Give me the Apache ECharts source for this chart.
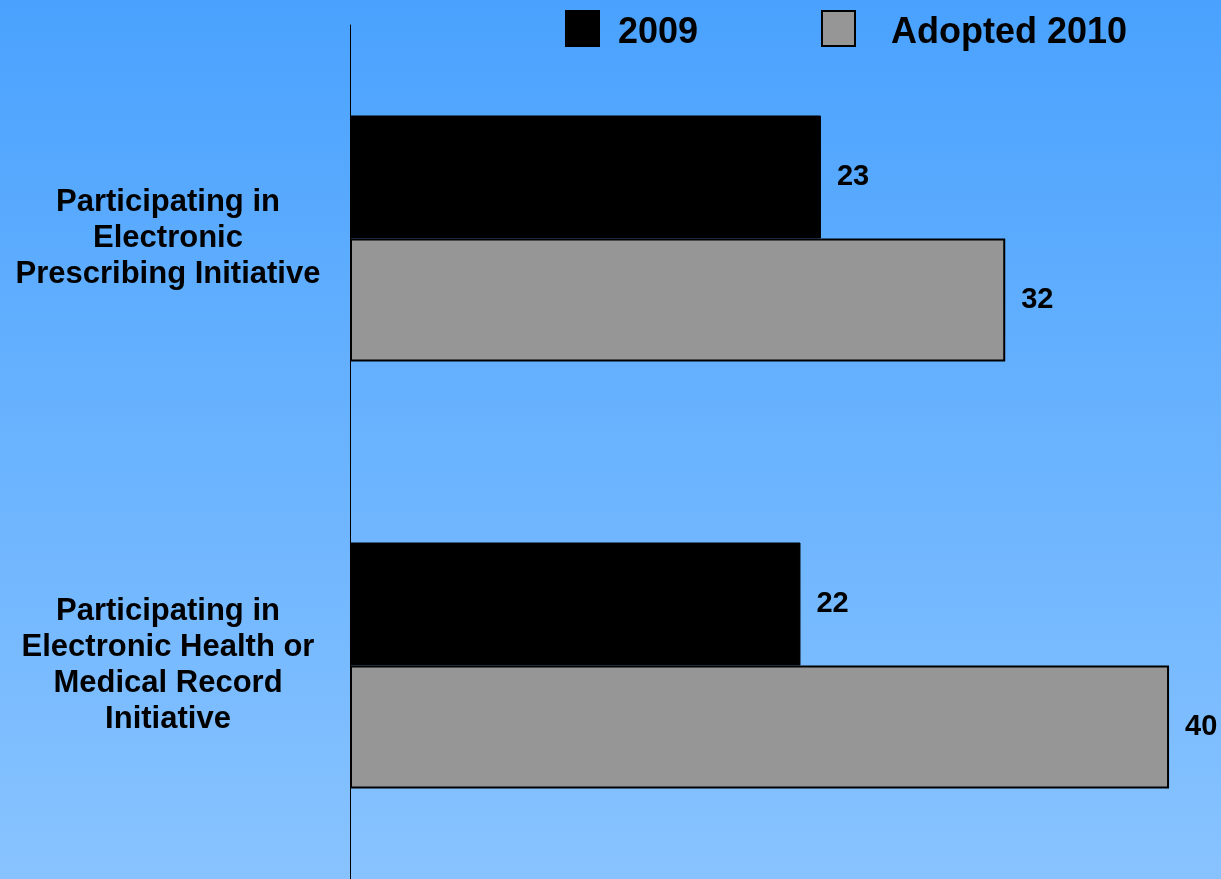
<!DOCTYPE html>
<html>
<head>
<meta charset="utf-8">
<script src="https://cdn.jsdelivr.net/npm/echarts@6/dist/echarts.min.js"></script>
<style>
html,body{margin:0;padding:0;width:1221px;height:879px;overflow:hidden;}
#chart{width:1221px;height:879px;}
</style>
</head>
<body>
<div id="chart"></div>
<script>
var categories = [
  "Participating in\nElectronic\nPrescribing Initiative",
  "Participating in\nElectronic Health or\nMedical Record\nInitiative"
];
var seriesNames = ["2009", "Adopted 2010"];
var values2009 = [23, 22];
var values2010 = [32, 40];

var chart = echarts.init(document.getElementById('chart'), null, {renderer: 'canvas'});
var FONT = '"Liberation Sans", Arial, sans-serif';
var labelStyle = {
  show: true, position: 'right', distance: 16,
  color: '#000', fontFamily: FONT, fontSize: 29, fontWeight: 'bold'
};
function legendText(padLeft) {
  return {
    fontFamily: FONT, fontSize: 36, fontWeight: 'bold', color: '#000',
    rich: {t: {fontFamily: FONT, fontSize: 36, fontWeight: 'bold', color: '#000', padding: [10, 0, 0, padLeft]}}
  };
}
var option = {
  backgroundColor: {
    type: 'linear', x: 0, y: 0, x2: 0, y2: 1,
    colorStops: [{offset: 0, color: '#4aa2fe'}, {offset: 1, color: '#88c3ff'}]
  },
  animation: false,
  legend: [
    {
      data: [seriesNames[0]], left: 565, top: 10, padding: 0,
      itemWidth: 33, itemHeight: 35,
      icon: 'rect',
      formatter: '{t|{name}}',
      textStyle: legendText(14)
    },
    {
      data: [seriesNames[1]], left: 821, top: 10, padding: 0,
      itemWidth: 33, itemHeight: 35,
      icon: 'rect',
      formatter: '{t|{name}}',
      itemStyle: {borderColor: '#000', borderWidth: 2},
      textStyle: legendText(31)
    }
  ],
  grid: {left: 350, top: 25, width: 860, height: 856, containLabel: false},
  xAxis: {
    type: 'value', min: 0, max: 42, show: false,
    splitLine: {show: false}
  },
  yAxis: {
    type: 'category', data: categories, inverse: true,
    axisLine: {show: true, lineStyle: {color: '#000', width: 1}},
    axisTick: {show: false},
    axisLabel: {
      align: 'center', margin: 182,
      fontFamily: FONT, fontSize: 31, fontWeight: 'bold', color: '#000', lineHeight: 36
    }
  },
  series: [
    {
      name: seriesNames[0], type: 'bar', data: values2009,
      barWidth: 123, barGap: '0%',
      itemStyle: {color: '#000', borderColor: '#000', borderWidth: 1},
      label: labelStyle
    },
    {
      name: seriesNames[1], type: 'bar', data: values2010,
      barWidth: 123, barGap: '0%',
      itemStyle: {color: '#969696', borderColor: '#000', borderWidth: 2},
      label: labelStyle
    }
  ]
};
chart.setOption(option);
</script>
</body>
</html>
